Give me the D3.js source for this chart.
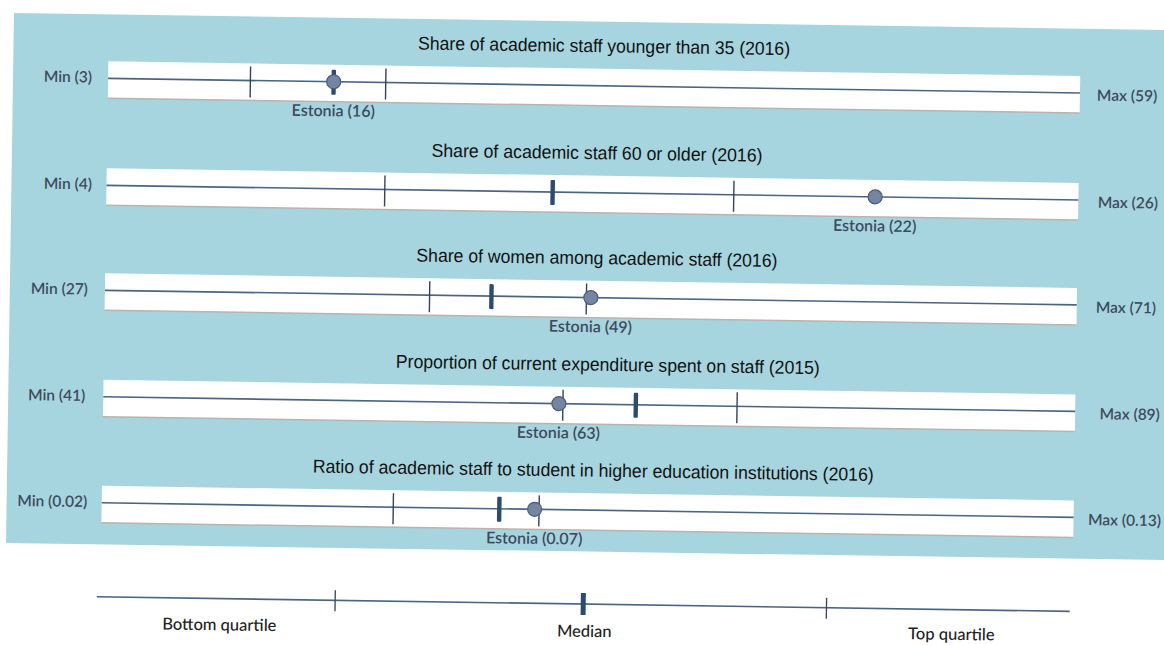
<!DOCTYPE html>
<html><head><meta charset="utf-8">
<script src="https://cdn.jsdelivr.net/npm/d3@7"></script>
<style>
html,body{margin:0;padding:0;background:#fff;}
svg{display:block;}
</style></head>
<body>
<svg id="chart" width="1164" height="645"></svg>
<script>
// ---- data ----
const titles = [
  "Share of academic staff younger than 35 (2016)",
  "Share of academic staff 60 or older (2016)",
  "Share of women among academic staff (2016)",
  "Proportion of current expenditure spent on staff (2015)",
  "Ratio of academic staff to student in higher education institutions (2016)"
];
const minValues = [3, 4, 27, 41, 0.02];
const maxValues = [59, 26, 71, 89, 0.13];
const minLabels = ["Min (3)", "Min (4)", "Min (27)", "Min (41)", "Min (0.02)"];
const maxLabels = ["Max (59)", "Max (26)", "Max (71)", "Max (89)", "Max (0.13)"];
const bottomQuartile = [11.2, 10.3, 41.7, 63.7, 0.053];
const median = [16, 14.1, 44.5, 67.3, 0.065];
const topQuartile = [19, 18.2, 48.8, 72.3, 0.0695];
const estoniaValues = [16, 21.4, 49, 63.5, 0.069];
const estoniaLabels = ["Estonia (16)", "Estonia (22)", "Estonia (49)", "Estonia (63)", "Estonia (0.07)"];
const legendLabels = ["Bottom quartile", "Median", "Top quartile"];
const legendValues = [0.98, 2, 3];

// ---- layout ----
const W = 1164, H = 645;
const angle = 0.86, cx = 582, cy = 320;
const rowY = [85.5, 192.5, 297.5, 404, 510];
const titleX = [600, 594.5, 596, 608.5, 595.5];
const titleW = [372, 331, 361, 424, 561];
const minLabelX = [88.5, 90, 87.5, 86.5, 90];
const maxLabelX = [1093.5, 1096, 1095.5, 1101, 1091];
const bandX0 = 104.5, bandX1 = 1076.5;

const blueBg = "#a6d5df";
const lineCol = "#4a6582";
const tickCol = "#34455a";
const medCol = "#2d4b71";
const dotFill = "#7385a0";
const dotStroke = "#4b5d7a";
const labelCol = "#3e4a5d";

const svg = d3.select("#chart");
svg.append("rect").attr("width", W).attr("height", H).attr("fill", "#fff");

// blue panel (scanned, slightly skewed)
svg.append("polygon")
  .attr("points", "14,13 1164,30 1164,560 6,543")
  .attr("fill", blueBg);

const root = svg.append("g").attr("transform", `rotate(${angle},${cx},${cy})`);

const titleFont = "'Liberation Sans Narrow','Arial Narrow','Liberation Sans',Arial,sans-serif";
const labelFont = "Lato,'Open Sans',sans-serif";

titles.forEach((t, i) => {
  const y = rowY[i];
  const g = root.append("g").attr("transform", `translate(0,${y})`);
  const x = d3.scaleLinear().domain([minValues[i], maxValues[i]]).range([bandX0, bandX1]);

  // white band
  g.append("rect")
    .attr("x", bandX0).attr("y", -17)
    .attr("width", bandX1 - bandX0).attr("height", 37)
    .attr("fill", "#ffffff");
  g.append("line")
    .attr("x1", bandX0).attr("x2", bandX1).attr("y1", 20).attr("y2", 20)
    .attr("stroke", "#b9b4ae").attr("stroke-width", 1.5);

  // axis line
  g.append("line")
    .attr("x1", x(minValues[i])).attr("x2", x(maxValues[i]))
    .attr("y1", 0).attr("y2", 0)
    .attr("stroke", lineCol).attr("stroke-width", 1.6);

  // quartile ticks
  [bottomQuartile[i], topQuartile[i]].forEach(v => {
    g.append("line")
      .attr("x1", x(v)).attr("x2", x(v))
      .attr("y1", -14).attr("y2", 17)
      .attr("stroke", tickCol).attr("stroke-width", 1.4);
  });
  // median
  g.append("rect")
    .attr("x", x(median[i]) - 2.2).attr("y", -12)
    .attr("width", 4.4).attr("height", 25).attr("rx", 1)
    .attr("fill", medCol);

  // Estonia dot
  g.append("circle")
    .attr("cx", x(estoniaValues[i])).attr("cy", 0).attr("r", 7)
    .attr("fill", dotFill).attr("stroke", dotStroke).attr("stroke-width", 1.2);

  g.append("text")
    .attr("x", x(estoniaValues[i])).attr("y", 29)
    .attr("dy", "0.35em").attr("text-anchor", "middle")
    .attr("font-family", labelFont).attr("font-weight", 600)
    .attr("font-size", 16).attr("fill", labelCol)
    .text(estoniaLabels[i]);

  // min / max labels
  g.append("text")
    .attr("x", minLabelX[i]).attr("y", -1)
    .attr("dy", "0.35em").attr("text-anchor", "end")
    .attr("font-family", labelFont).attr("font-weight", 600)
    .attr("font-size", 15.5).attr("fill", labelCol)
    .text(minLabels[i]);
  g.append("text")
    .attr("x", maxLabelX[i]).attr("y", 2)
    .attr("dy", "0.35em").attr("text-anchor", "start")
    .attr("font-family", labelFont).attr("font-weight", 600)
    .attr("font-size", 15.5).attr("fill", labelCol)
    .text(maxLabels[i]);

  // title
  g.append("text")
    .attr("x", titleX[i]).attr("y", -40)
    .attr("dy", "0.35em").attr("text-anchor", "middle")
    .attr("font-family", titleFont)
    .attr("font-size", 18.5).attr("fill", "#111")
    .attr("textLength", titleW[i]).attr("lengthAdjust", "spacingAndGlyphs")
    .text(t);
});

// ---- legend ----
const legY = 604;
const lg = root.append("g").attr("transform", `translate(0,${legY})`);
const lx = d3.scaleLinear().domain([0, 4]).range([101, 1074]);
lg.append("line")
  .attr("x1", lx(0)).attr("x2", lx(4)).attr("y1", 0).attr("y2", 0)
  .attr("stroke", lineCol).attr("stroke-width", 1.6);
[legendValues[0], legendValues[2]].forEach(v => {
  lg.append("line")
    .attr("x1", lx(v)).attr("x2", lx(v)).attr("y1", -10).attr("y2", 11)
    .attr("stroke", tickCol).attr("stroke-width", 1.3);
});
lg.append("rect")
  .attr("x", lx(legendValues[1]) - 2.5).attr("y", -11).attr("width", 5).attr("height", 22)
  .attr("fill", medCol);
const legLabelX = [224, 589, 956];
const legLabelDY = [26, 27, 24.5];
legendLabels.forEach((t, i) => {
  lg.append("text")
    .attr("x", legLabelX[i]).attr("y", legLabelDY[i])
    .attr("dy", "0.35em").attr("text-anchor", "middle")
    .attr("font-family", labelFont).attr("font-weight", 500)
    .attr("font-size", 16.5).attr("fill", "#222")
    .text(t);
});
</script>
</body></html>
